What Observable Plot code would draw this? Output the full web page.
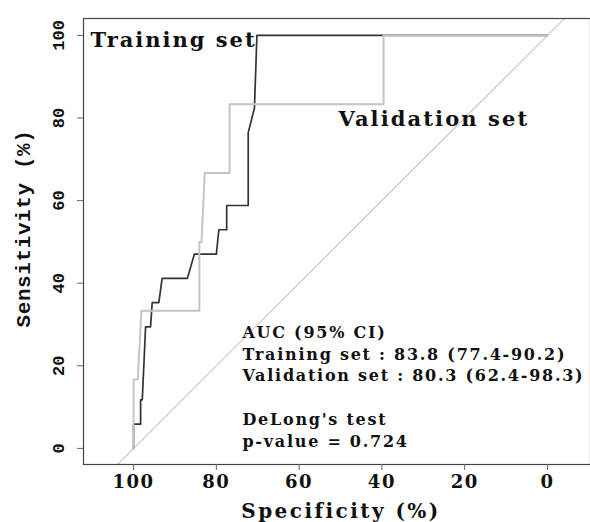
<!DOCTYPE html>
<html>
<head>
<meta charset="utf-8">
<script src="https://cdn.jsdelivr.net/npm/d3@7"></script>
<script src="https://cdn.jsdelivr.net/npm/@observablehq/plot@0.6"></script>
<style>
  html, body { margin: 0; padding: 0; background: #fff; }
  #chart svg { display: block; }
</style>
</head>
<body>
<div id="chart"></div>
<script>
// Training set ROC (specificity %, sensitivity %)
const trainSpec = [100, 100, 98.3, 98.3, 97.9, 97.1, 95.9, 95.5, 93.9, 93.1, 87.0, 85.3, 80.0, 79.4, 77.5, 77.5, 72.3, 72.3, 70.8, 70.2, 0];
const trainSens = [0, 5.88, 5.88, 11.76, 11.76, 29.41, 29.41, 35.29, 35.29, 41.18, 41.18, 47.06, 47.06, 52.94, 52.94, 58.82, 58.82, 76.47, 82.35, 100, 100];
// Validation set ROC
const validSpec = [100, 100, 99.0, 98.1, 84.1, 84.1, 83.6, 82.8, 76.8, 76.8, 39.6, 39.6, 0];
const validSens = [0, 16.67, 16.67, 33.33, 33.33, 50, 50, 66.67, 66.67, 83.33, 83.33, 100, 100];
// reference diagonal (chance line), extended across the frame
const diagSpec = [120, -20];
const diagSens = [-20, 120];

const xTicks = [100, 80, 60, 40, 20, 0];
const yTicks = [0, 20, 40, 60, 80, 100];

const aucLines = [
  "AUC (95% CI)",
  "Training set : 83.8 (77.4-90.2)",
  "Validation set : 80.3 (62.4-98.3)",
  "",
  "DeLong's test",
  "p-value = 0.724"
];

const train = trainSpec.map((s, i) => ({spec: s, sens: trainSens[i]}));
const valid = validSpec.map((s, i) => ({spec: s, sens: validSens[i]}));
const diag = diagSpec.map((s, i) => ({spec: s, sens: diagSens[i]}));

const serif = "'DejaVu Serif', serif";
const mono = "'Liberation Mono', monospace";

const chart = Plot.plot({
  width: 590,
  height: 522,
  marginLeft: 83,
  marginTop: 18,
  marginBottom: 58,
  marginRight: 0,
  x: {domain: [112.1, -10.4]},
  y: {domain: [-3.9, 104.1]},
  style: {background: "#fff"},
  marks: [
    Plot.line(diag, {x: "spec", y: "sens", stroke: "#c8c8c8", strokeWidth: 1.2, clip: true}),
    Plot.line(train, {x: "spec", y: "sens", stroke: "#333", strokeWidth: 1.7}),
    Plot.line(valid, {x: "spec", y: "sens", stroke: "#c4c4c4", strokeWidth: 2}),
    Plot.frame({stroke: "#444", strokeWidth: 1.2}),
    Plot.axisX({ticks: xTicks, tickSize: 6, tickPadding: 5, stroke: "#666",
      fontFamily: serif, fontWeight: "bold", fontSize: 18, fill: "#111", label: null, tickFormat: d => String(d)}),
    Plot.axisY({ticks: yTicks, tickSize: 6, tickPadding: 14, stroke: "#666", tickRotate: -90,
      fontFamily: mono, fontWeight: "bold", fontSize: 17, fill: "#111", label: null, tickFormat: d => String(d)}),
    Plot.text(["Specificity (%)"], {frameAnchor: "bottom", dy: 53, dx: 4, fontFamily: serif, fontWeight: "bold", fontSize: 20, fill: "#111"}),
    Plot.text(["Sensitivity (%)"], {frameAnchor: "left", textAnchor: "middle", dx: -60, dy: -13, rotate: -90, fontFamily: mono, fontWeight: "bold", fontSize: 21, fill: "#111"}),
    Plot.text(["Training set"], {x: 110.4, y: 98.8, textAnchor: "start", fontFamily: serif, fontWeight: "bold", fontSize: 21, fill: "#111"}),
    Plot.text(["Validation set"], {x: 50.5, y: 79.7, textAnchor: "start", fontFamily: serif, fontWeight: "bold", fontSize: 21, fill: "#111"}),
    Plot.text([aucLines.join("\n")], {x: 73.7, y: 15.3, textAnchor: "start", lineAnchor: "middle", lineHeight: 1.36, fontFamily: serif, fontWeight: "bold", fontSize: 16, fill: "#111"})
  ]
});

// letter spacing to mimic the wide Bookman-like typeface of the original
const svg = d3.select(chart);
svg.selectAll('g[aria-label="x-axis tick label"] text').style("letter-spacing", "1.5px");
const spacingByText = new Map([
  ["Specificity (%)", 2.45],
  ["Sensitivity (%)", 0.6],
  ["Training set", 2.0],
  ["Validation set", 2.1]
]);
svg.selectAll("text").each(function() {
  const t = this.textContent;
  if (spacingByText.has(t)) d3.select(this).style("letter-spacing", spacingByText.get(t) + "px");
  else if (t.startsWith("AUC")) d3.select(this).style("letter-spacing", "1.75px");
});
document.getElementById("chart").appendChild(chart);
</script>
</body>
</html>
